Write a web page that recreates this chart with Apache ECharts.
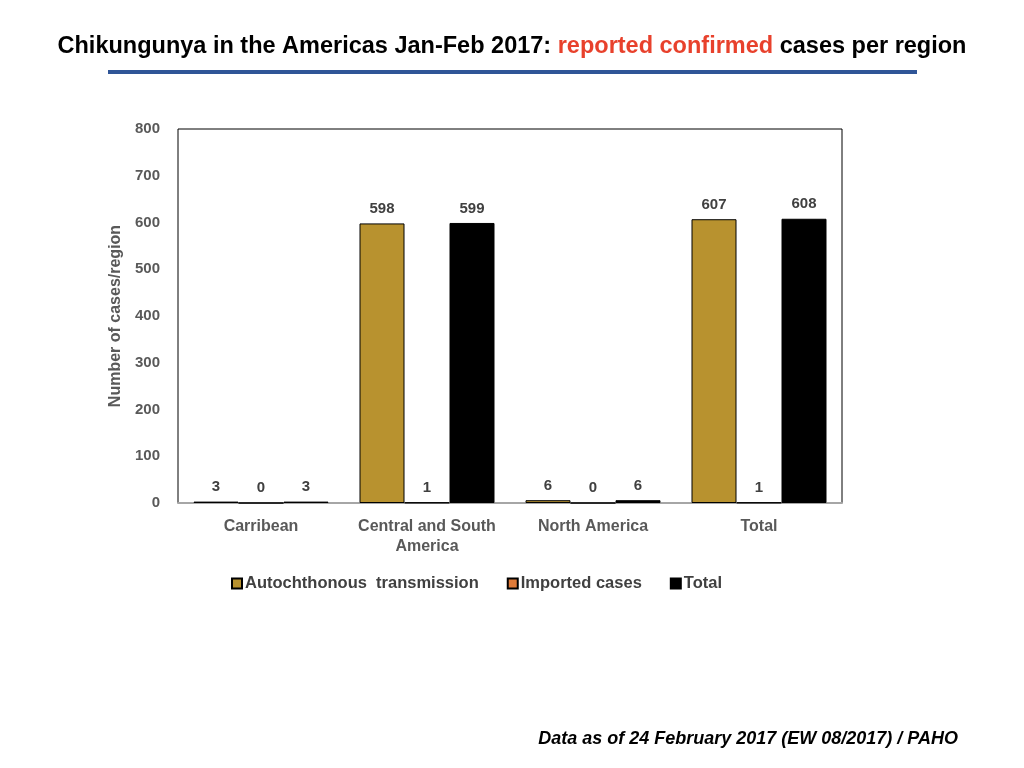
<!DOCTYPE html>
<html>
<head>
<meta charset="utf-8">
<script src="https://cdn.jsdelivr.net/npm/echarts@6/dist/echarts.min.js"></script>
<style>
  html, body { margin: 0; padding: 0; background: #fff; }
  #chart { width: 1024px; height: 768px; }
</style>
</head>
<body>
<div id="chart"></div>
<script>
const regions = ['Carribean', 'Central and South\nAmerica', 'North America', 'Total'];
const autochthonous = [3, 598, 6, 607];
const imported = [0, 1, 0, 1];
const totals = [3, 599, 6, 608];
const yTicks = [0, 800, 100];

const labelStyle = {
  show: true,
  position: 'top',
  distance: 7,
  color: '#404040',
  fontWeight: 'bold',
  fontSize: 15,
  fontFamily: 'Liberation Sans'
};

var chart = echarts.init(document.getElementById('chart'), null, { renderer: 'canvas' });

var option = {
  backgroundColor: '#fff',
  textStyle: { fontFamily: 'Liberation Sans' },
  title: {
    text: '{b|Chikungunya in the Americas Jan-Feb 2017: }{r|reported confirmed}{b| cases per region}',
    left: 'center',
    top: 30,
    textStyle: {
      rich: {
        b: { fontSize: 23.5, fontWeight: 'bold', color: '#000', fontFamily: 'Liberation Sans' },
        r: { fontSize: 23.5, fontWeight: 'bold', color: '#E8412C', fontFamily: 'Liberation Sans' }
      }
    }
  },
  graphic: [
    {
      type: 'rect',
      shape: { x: 108, y: 70, width: 809, height: 4 },
      style: { fill: '#2F5597' }
    },
    {
      type: 'text',
      right: 66,
      top: 730,
      style: {
        text: 'Data as of 24 February 2017 (EW 08/2017) / PAHO',
        font: 'italic bold 18px "Liberation Sans"',
        fill: '#000'
      }
    }
  ],
  legend: {
    left: 226,
    top: 570,
    itemWidth: 10,
    itemHeight: 10,
    itemGap: 28,
    icon: 'rect',
    textStyle: { color: '#404040', fontWeight: 'bold', fontSize: 16.5, padding: [0, 0, 0, -2] },
    data: ['Autochthonous  transmission', 'Imported cases', 'Total']
  },
  grid: {
    left: 178,
    right: 182,
    top: 129,
    bottom: 265,
    show: true,
    borderColor: '#000',
    borderWidth: 1
  },
  xAxis: {
    type: 'category',
    data: regions,
    axisLine: { lineStyle: { color: '#a6a6a6', width: 2 } },
    axisTick: { show: false },
    axisLabel: {
      interval: 0,
      color: '#595959',
      fontWeight: 'bold',
      fontSize: 16,
      margin: 14,
      lineHeight: 20
    }
  },
  yAxis: {
    type: 'value',
    min: yTicks[0],
    max: yTicks[1],
    interval: yTicks[2],
    name: 'Number of cases/region',
    nameLocation: 'middle',
    nameGap: 49,
    nameTextStyle: { color: '#595959', fontWeight: 'bold', fontSize: 16 },
    splitLine: { show: false },
    axisLine: { show: false },
    axisTick: { show: false },
    axisLabel: { color: '#595959', fontWeight: 'bold', fontSize: 15, margin: 18 }
  },
  series: [
    {
      name: 'Autochthonous  transmission',
      type: 'bar',
      data: autochthonous,
      barWidth: 45,
      barGap: '0%',
      itemStyle: { color: '#B8922F', borderColor: '#000', borderWidth: 1 },
      label: labelStyle
    },
    {
      name: 'Imported cases',
      type: 'bar',
      data: imported,
      barWidth: 45,
      barGap: '0%',
      itemStyle: { color: '#E07B39', borderColor: '#000', borderWidth: 1 },
      label: labelStyle
    },
    {
      name: 'Total',
      type: 'bar',
      data: totals,
      barWidth: 45,
      barGap: '0%',
      itemStyle: { color: '#000', borderColor: '#000', borderWidth: 1 },
      label: labelStyle
    }
  ]
};

chart.setOption(option);
</script>
</body>
</html>
